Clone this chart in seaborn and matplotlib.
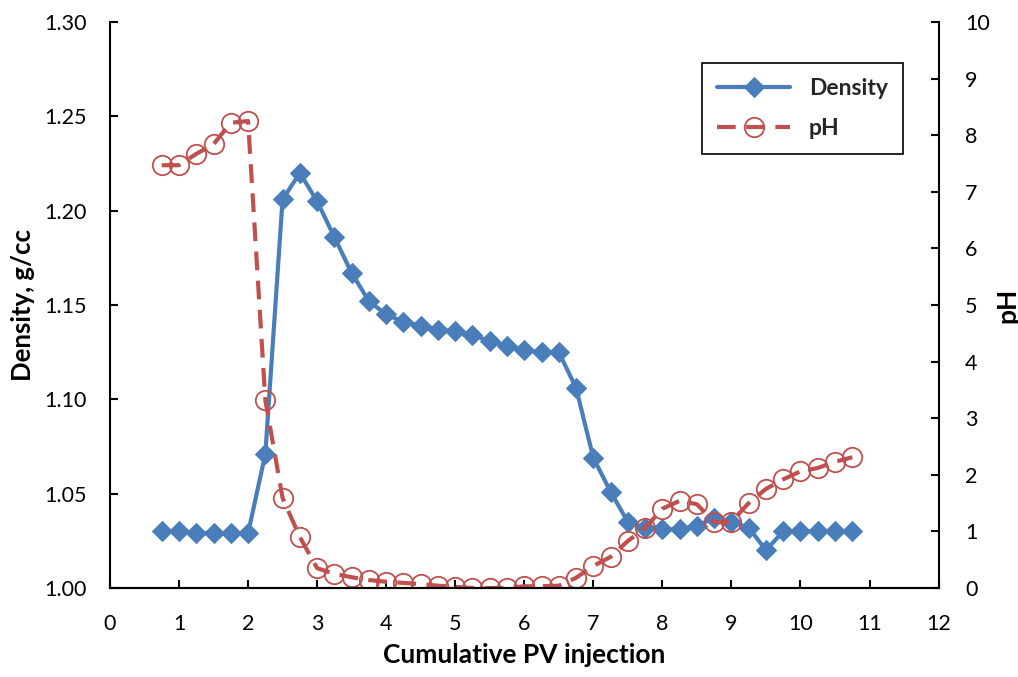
import matplotlib
matplotlib.use("Agg")
import matplotlib.pyplot as plt
import seaborn as sns
import pandas as pd

# Données
pv = [0.75, 1.0, 1.25, 1.5, 1.75, 2.0, 2.25, 2.5, 2.75, 3.0, 3.25, 3.5, 3.75, 4.0,
      4.25, 4.5, 4.75, 5.0, 5.25, 5.5, 5.75, 6.0, 6.25, 6.5, 6.75, 7.0, 7.25, 7.5,
      7.75, 8.0, 8.25, 8.5, 8.75, 9.0, 9.25, 9.5, 9.75, 10.0, 10.25, 10.5, 10.75]
density = [1.030, 1.030, 1.029, 1.029, 1.029, 1.029, 1.071, 1.206, 1.220, 1.205,
           1.186, 1.167, 1.152, 1.145, 1.141, 1.139, 1.137, 1.136, 1.134, 1.131,
           1.128, 1.126, 1.125, 1.125, 1.106, 1.069, 1.051, 1.035, 1.032, 1.031,
           1.031, 1.033, 1.037, 1.035, 1.032, 1.020, 1.030, 1.030, 1.030, 1.030, 1.030]
ph = [7.47, 7.47, 7.67, 7.84, 8.22, 8.25, 3.32, 1.59, 0.90, 0.35, 0.25, 0.19, 0.14,
      0.11, 0.09, 0.07, 0.04, 0.02, 0.00, 0.00, 0.00, 0.03, 0.03, 0.04, 0.18, 0.39,
      0.55, 0.83, 1.06, 1.40, 1.54, 1.48, 1.16, 1.17, 1.50, 1.75, 1.92, 2.06, 2.12,
      2.23, 2.31]

df = pd.DataFrame({'pv': pv, 'density': density, 'ph': ph})

blue = '#4A7EBB'
red = '#C0504D'

sns.set_style('ticks')
plt.rcParams['font.family'] = ['Lato', 'DejaVu Sans']

fig = plt.figure(figsize=(10.18, 6.77), dpi=100)
ax = fig.add_axes([0.108, 0.1315, 0.814, 0.836])
ax2 = ax.twinx()

sns.lineplot(data=df, x='pv', y='density', ax=ax, color=blue, linewidth=3,
             marker='D', markersize=10, markeredgecolor=blue, label='Density',
             legend=False)
sns.lineplot(data=df, x='pv', y='ph', ax=ax2, color=red, linewidth=3,
             dashes=(4.5, 2.5), marker='o', markersize=14, markerfacecolor='none',
             markeredgecolor=red, markeredgewidth=1.3, label='pH', legend=False)

ax.set_xlim(0, 12)
ax.set_ylim(1.0, 1.30)
ax2.set_ylim(0, 10)
ax.set_xticks(range(0, 13))
ax.set_yticks([1.00, 1.05, 1.10, 1.15, 1.20, 1.25, 1.30])
ax.set_yticklabels([f'{v:.2f}' for v in ax.get_yticks()])
ax2.set_yticks(range(0, 11))

for a in (ax, ax2):
    a.spines['top'].set_visible(False)
    for s in a.spines.values():
        s.set_linewidth(1.5)
        s.set_color('black')
    a.tick_params(direction='in', length=6, width=1.5, labelsize=15.5,
                  colors='black', labelcolor='black')
ax.spines['right'].set_visible(False)
ax2.spines['left'].set_visible(False)
ax.tick_params(axis='x', pad=19)
ax.tick_params(axis='y', pad=17)
ax2.tick_params(axis='y', pad=19)

ax.set_xlabel('Cumulative PV injection', fontsize=19, fontweight='bold',
              labelpad=6, color='black')
ax.set_ylabel('Density, g/cc', fontsize=18.5, fontweight='bold', labelpad=6,
              color='black')
ax2.set_ylabel('pH', fontsize=19, fontweight='bold', labelpad=4, color='black')

h1, l1 = ax.get_legend_handles_labels()
h2, l2 = ax2.get_legend_handles_labels()
leg = ax2.legend(h1 + h2, l1 + l2, loc='upper right', bbox_to_anchor=(0.9566, 0.9276),
                 borderaxespad=0, frameon=True, fancybox=False, edgecolor='black',
                 prop={'weight': 'bold', 'size': 16.5}, borderpad=0.65,
                 labelspacing=0.85, handlelength=3.2, framealpha=1)
leg.get_frame().set_linewidth(1.2)

fig.savefig('out.png', dpi=100)
